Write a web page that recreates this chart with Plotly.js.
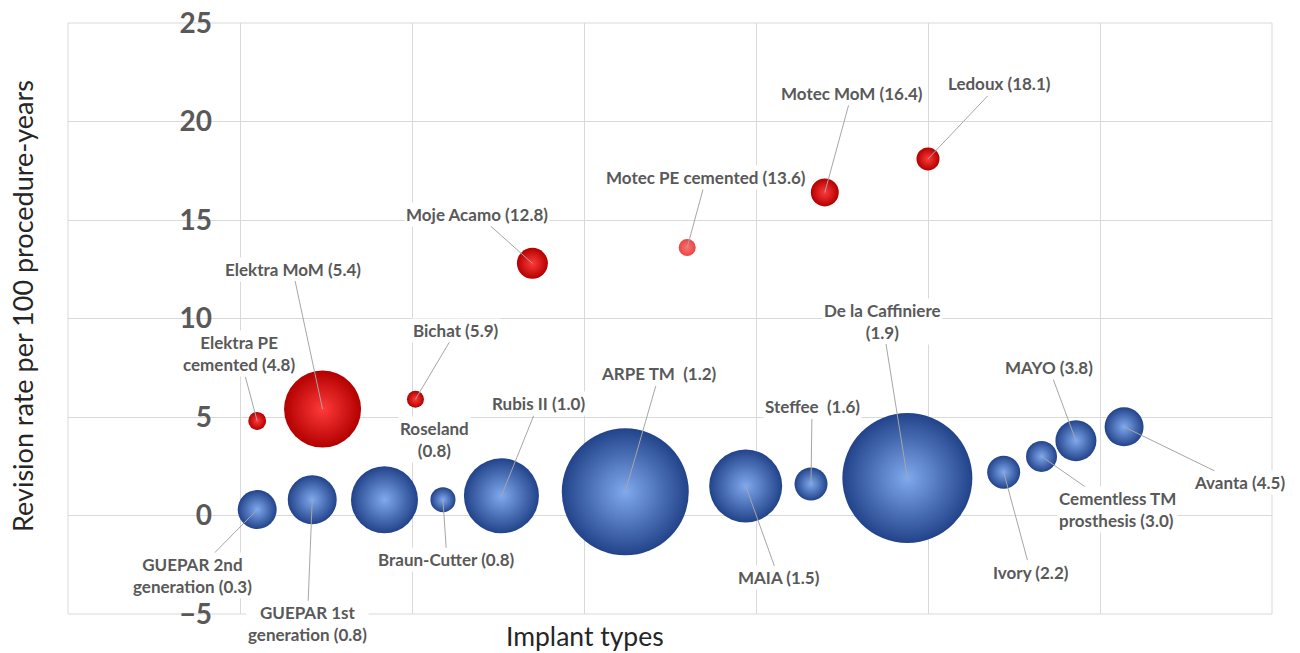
<!DOCTYPE html>
<html>
<head>
<meta charset="utf-8">
<script src="https://cdn.plot.ly/plotly-3.0.1.min.js"></script>
<style>
html,body{margin:0;padding:0;background:#ffffff;}
#chart{width:1300px;height:653px;}
</style>
</head>
<body>
<div id="chart"></div>
<script>
// ---------------- DATA ----------------
// Blue series (lower revision rates)
const blueNames = ["GUEPAR 2nd<br>generation", "GUEPAR 1st<br>generation", "Roseland", "Braun-Cutter",
  "Rubis II", "ARPE TM ", "MAIA", "Steffee ", "De la Caffiniere", "Ivory",
  "Cementless TM<br>prosthesis", "MAYO", "Avanta"];
const blueX = [5.5, 7.1, 9.2, 10.9, 12.6, 16.2, 19.7, 21.6, 24.4, 27.2, 28.3, 29.3, 30.7];
const blueRate = [0.3, 0.8, 0.8, 0.8, 1.0, 1.2, 1.5, 1.6, 1.9, 2.2, 3.0, 3.8, 4.5];
const blueSize = [152, 240, 449, 63, 563, 1613, 533, 109, 1690, 109, 96, 168, 152];

// Red series (high revision rates)
const redNames = ["Elektra PE<br>cemented", "Elektra MoM", "Bichat", "Moje Acamo",
  "Motec PE cemented", "Motec MoM", "Ledoux"];
const redX = [5.5, 7.4, 10.1, 13.5, 18.0, 22.0, 25.0];
const redRate = [4.8, 5.4, 5.9, 12.8, 13.6, 16.4, 18.1];
const redSize = [32, 593, 29, 96, 29, 78, 53];

const yTickVals = [-5, 0, 5, 10, 15, 20, 25];
const xTitle = "Implant types";
const yTitle = "Revision rate per 100 procedure-years";

// ---------------- LAYOUT / STYLE ----------------
const FONT = "Lato, 'Open Sans', sans-serif";
const labelFont = {family: FONT, size: 17, color: "#595959", weight: 700};
const valueOnNewLine = ["Roseland", "De la Caffiniere"];
// label offsets in px relative to point (ax, ay); third entry false => plain shifted text
const labelOffsets = {
  "GUEPAR 2nd<br>generation": [-65, 66],
  "GUEPAR 1st<br>generation": [-5, 124],
  "Roseland": [50, -60, false],
  "Braun-Cutter": [4, 60],
  "Rubis II": [37, -92],
  "ARPE TM ": [34, -118],
  "MAIA": [33, 92],
  "Steffee ": [1, -77],
  "De la Caffiniere": [-25, -157],
  "Ivory": [27, 100],
  "Cementless TM<br>prosthesis": [76, 53],
  "MAYO": [-27, -73],
  "Avanta": [115, 56],
  "Elektra PE<br>cemented": [-18, -67],
  "Elektra MoM": [-30, -140],
  "Bichat": [41, -69],
  "Moje Acamo": [-55, -49],
  "Motec PE cemented": [19, -70],
  "Motec MoM": [27, -99],
  "Ledoux": [71, -75]
};

function labelText(name, val) {
  const sep = valueOnNewLine.indexOf(name) >= 0 ? "<br>" : " ";
  return name + sep + "(" + val.toFixed(1) + ")";
}

const annotations = [];
function addLabels(names, xs, ys) {
  names.forEach((n, i) => {
    const off = labelOffsets[n];
    const a = {
      x: xs[i], y: ys[i], xref: "x", yref: "y",
      text: labelText(n, ys[i]),
      font: labelFont,
      bgcolor: "rgba(255,255,255,1)",
      borderpad: 1,
      align: n.indexOf("Cementless") === 0 ? "left" : "center"
    };
    if (off[2] === false) {
      a.showarrow = false;
      a.xshift = off[0];
      a.yshift = -off[1];
    } else {
      a.showarrow = true;
      a.ax = off[0];
      a.ay = off[1];
      a.arrowhead = 0;
      a.arrowwidth = 1;
      a.arrowcolor = "#a6a6a6";
      a.standoff = 0;
      a.startstandoff = 0;
    }
    annotations.push(a);
  });
}
addLabels(blueNames, blueX, blueRate);
addLabels(redNames, redX, redRate);

// axis titles
annotations.push({
  xref: "paper", yref: "paper", x: (585 - 68) / 1204, y: (614 - 636) / 591,
  text: xTitle, showarrow: false, xanchor: "center", yanchor: "middle",
  font: {family: FONT, size: 26.5, color: "#262626"}
});
annotations.push({
  xref: "paper", yref: "paper", x: (22 - 68) / 1204, y: (614 - 306) / 591,
  text: yTitle, showarrow: false, textangle: -90, xanchor: "center", yanchor: "middle",
  font: {family: FONT, size: 27, color: "#262626"}
});

const redColors = redNames.map(n => n === "Motec PE cemented" ? "#ec4444" : "#b30000");
const redCenters = redNames.map(n => n === "Motec PE cemented" ? "#f77474" : "#ff3a3a");

const traces = [
  {
    type: "scatter", mode: "markers", name: "Low revision",
    x: blueX, y: blueRate,
    marker: {
      size: blueSize, sizemode: "area", sizeref: 0.2,
      color: "#22438a",
      gradient: {type: "radial", color: "#80a9ee"},
      line: {width: 0}, opacity: 1
    },
    hoverinfo: "skip"
  },
  {
    type: "scatter", mode: "markers", name: "High revision",
    x: redX, y: redRate,
    marker: {
      size: redSize, sizemode: "area", sizeref: 0.2,
      color: redColors,
      gradient: {type: "radial", color: redCenters},
      line: {width: 0}, opacity: 1
    },
    hoverinfo: "skip"
  }
];

const layout = {
  width: 1300, height: 653,
  margin: {l: 68, r: 28, t: 23, b: 39},
  paper_bgcolor: "#ffffff", plot_bgcolor: "#ffffff",
  showlegend: false,
  xaxis: {
    range: [0, 35], dtick: 5, tick0: 0,
    showticklabels: false, ticks: "",
    showgrid: true, gridcolor: "#d9d9d9", gridwidth: 1,
    zeroline: false, showline: false, fixedrange: true
  },
  yaxis: {
    range: [-5, 25], tickvals: yTickVals,
    anchor: "free", position: 1 / 7,
    ticks: "", ticklabelstandoff: 28,
    tickfont: {family: FONT, size: 28, color: "#595959", weight: 700},
    showgrid: true, gridcolor: "#d9d9d9", gridwidth: 1,
    zeroline: false, showline: false, fixedrange: true
  },
  shapes: [{
    type: "rect", xref: "paper", yref: "paper", x0: 0, x1: 1, y0: 0, y1: 1,
    line: {color: "#d9d9d9", width: 1}, layer: "below"
  }],
  annotations: annotations
};

Plotly.newPlot("chart", traces, layout, {displayModeBar: false, staticPlot: true});
</script>
</body>
</html>
